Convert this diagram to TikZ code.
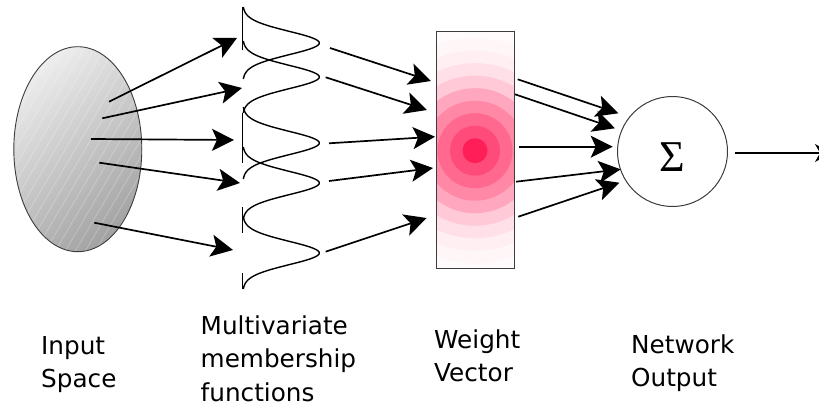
\documentclass[tikz,border=0pt]{standalone}
\usepackage{fontspec}
\newfontfamily\lblfont{DejaVu Sans}
\newfontfamily\symfont{Liberation Serif}
\usetikzlibrary{arrows.meta}
\definecolor{rose}{RGB}{255,30,88}
\definecolor{edgegray}{RGB}{60,60,60}
\tikzset{
  arrow/.style={line width=1.7pt, -{Stealth[length=22pt, width=22pt, inset=5pt]}},
  outarrow/.style={line width=1.3pt, -{Stealth[length=16pt, width=18pt, inset=5pt]}},
  mf/.style={line width=1.4pt},
  lbltext/.style={font=\lblfont\fontsize{24.7}{33.5}\selectfont, align=left, anchor=base west, inner sep=0pt}
}

\begin{document}
\begin{tikzpicture}[x=1pt, y=-1pt]
		\useasboundingbox (0,0) rectangle (819,409);
		% input space
		\coordinate (E) at (77.8,149.2);
		\shade[top color=gray!15, bottom color=gray!72, shading angle=40] (E) ellipse [x radius=64, y radius=102.5];
		\begin{scope}
			\clip (E) ellipse [x radius=64, y radius=102.5];
			\foreach \k in {-12,...,16} \draw[white, opacity=0.25, line width=0.8pt] (\k*10,260) -- ++(125,-212.5);
		\end{scope}
		\draw[edgegray, line width=0.9pt] (E) ellipse [x radius=64, y radius=102.5];
		% membership functions
		\foreach \c in {43,77,143,183,253}
			\draw[mf] plot[domain=-36:36, samples=73, smooth] ({242.7+76.6*exp(-1*(\x/16.5)*(\x/16.5))}, {\c+\x});
		\draw[mf] (242.7,7) -- (242.7,50) (242.7,113) -- (242.7,163)
			(242.7,207) -- (242.7,233) (242.7,273) -- (242.7,289);
		% weight vector
		\begin{scope}
			\clip (436,32) rectangle (514,268);
			\fill[white] (436,32) rectangle (514,268);
			\foreach \r/\p in {125/2, 112.5/4, 100/7, 87.5/14, 75/24, 62.5/39, 50/53, 37.5/67, 25/80, 12.5/100}
				\fill[rose!\p!white] (475,150.7) circle [radius=\r];
		\end{scope}
		\node[draw=edgegray, line width=1pt, minimum width=78pt, minimum height=236pt, inner sep=0pt] (wv) at (475,150) {};
		% summation
		\node[circle, draw=edgegray, line width=1pt, minimum size=110pt, inner sep=0pt,
			font=\symfont\fontsize{44}{44}\selectfont, text height=40pt, text depth=0pt] (sum) at (672.5,151.5) {Σ};
		% arrow ends
		\coordinate (a1) at (109,101.7);   \coordinate (b1) at (237,38);
		\coordinate (a2) at (102.3,118.3); \coordinate (b2) at (242,88);
		\coordinate (a3) at (91,139);      \coordinate (b3) at (234,140);
		\coordinate (a4) at (99.3,162.7);  \coordinate (b4) at (240,183);
		\coordinate (a5) at (94.3,222.7);  \coordinate (b5) at (233,250);
		\coordinate (c1) at (330,48);      \coordinate (d1) at (431,81);
		\coordinate (c2) at (325.7,77.3);  \coordinate (d2) at (427,110);
		\coordinate (c3) at (329,143.3);   \coordinate (d3) at (435,136.7);
		\coordinate (c4) at (329,181);     \coordinate (d4) at (433,168);
		\coordinate (c5) at (325.7,251.7); \coordinate (d5) at (426.7,218);
		\coordinate (e1) at (517.7,79.3);  \coordinate (f1) at (618.3,113.3);
		\coordinate (e2) at (515,94.3);    \coordinate (f2) at (615,128.3);
		\coordinate (e3) at (519,146.7);   \coordinate (f3) at (612.7,146.7);
		\coordinate (e4) at (516,181.7);   \coordinate (f4) at (620.7,169.3);
		\coordinate (e5) at (518.3,216.7); \coordinate (f5) at (619.3,182.7);
		\coordinate (o1) at (735,153);     \coordinate (o2) at (831,153);
		\foreach \i in {1,...,5} {
			\draw[arrow] (a\i) -- (b\i);
			\draw[arrow] (c\i) -- (d\i);
			\draw[arrow] (e\i) -- (f\i);
		}
		\draw[outarrow] (o1) -- (o2);
		% captions (anchored on the last line)
		\node[lbltext] (lin) at (41,387.5) {Input\\Space};
		\node[lbltext] (lmf) at (200.5,401) {Multivariate\\membership\\functions};
		\node[lbltext] (lwv) at (434,381.5) {Weight\\Vector};
		\node[lbltext] (lout) at (631,386.5) {Network\\Output};
	\end{tikzpicture}
\end{document}
